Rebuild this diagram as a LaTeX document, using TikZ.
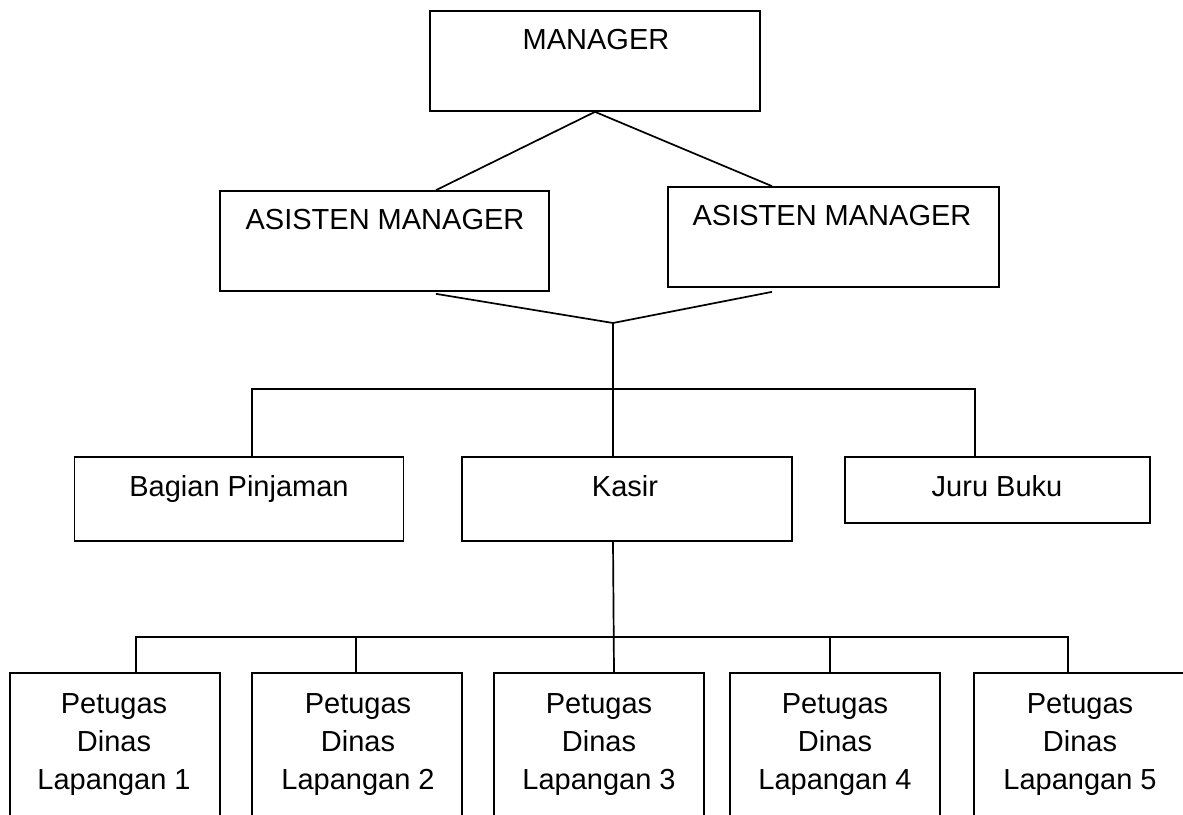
\documentclass[tikz,border=0pt]{standalone}
\usepackage{fontspec}
\setmainfont{Liberation Sans}
\usetikzlibrary{calc}
\begin{document}
\begin{tikzpicture}[x=1pt,y=-1pt,
  box/.style={draw,line width=1.7pt,rectangle,inner sep=0pt},
  lbl/.style={font=\fontsize{29}{38}\selectfont,align=center,anchor=base,inner sep=0pt},
  link/.style={line width=1.7pt}]
\useasboundingbox (0,0) rectangle (1183,814);
\clip (0,0) rectangle (1183,814);
% boxes
\node[box,minimum width=330pt,minimum height=100pt] (mgr) at (595,61) {};
\node[box,minimum width=329pt,minimum height=100pt] (am1) at (384.5,241) {};
\node[box,minimum width=331pt,minimum height=100pt] (am2) at (833.5,237) {};
\node[box,minimum width=329pt,minimum height=84pt] (bp) at (239,499) {};
\node[box,minimum width=330pt,minimum height=84pt] (kasir) at (627,499) {};
\node[box,minimum width=305pt,minimum height=66pt] (jb) at (997.5,490) {};
\node[box,minimum width=210pt,minimum height=157pt] (pd1) at (115,751.5) {};
\node[box,minimum width=210pt,minimum height=157pt] (pd2) at (357,751.5) {};
\node[box,minimum width=210pt,minimum height=157pt] (pd3) at (599,751.5) {};
\node[box,minimum width=210pt,minimum height=157pt] (pd4) at (835,751.5) {};
\node[box,minimum width=210pt,minimum height=157pt] (pd5) at (1079,751.5) {};
% labels
\node[lbl] (tmgr) at (596,49) {MANAGER};
\node[lbl] (tam1) at (385,229) {ASISTEN MANAGER};
\node[lbl] (tam2) at (832,225) {ASISTEN MANAGER};
\node[lbl] (tbp) at (239,496) {Bagian Pinjaman};
\node[lbl] (tkasir) at (625,496) {Kasir};
\node[lbl] (tjb) at (997,496) {Juru Buku};
\node[lbl] (tpd1) at (114,789) {Petugas\\Dinas\\Lapangan 1};
\node[lbl] (tpd2) at (358,789) {Petugas\\Dinas\\Lapangan 2};
\node[lbl] (tpd3) at (599,789) {Petugas\\Dinas\\Lapangan 3};
\node[lbl] (tpd4) at (835,789) {Petugas\\Dinas\\Lapangan 4};
\node[lbl] (tpd5) at (1080,789) {Petugas\\Dinas\\Lapangan 5};
% connectors
\coordinate (j) at (613,323);
\coordinate (bus1) at (613,389);
\coordinate (bus2) at (614,637);
\draw[link] (mgr.south) -- ($(am1.north)+(51.5,0)$);
\draw[link] (mgr.south) -- ($(am2.north)+(-61.5,0)$);
\draw[link] ($(am1.south)+(51.5,2)$) -- (j) -- ($(am2.south)+(-61.5,4)$);
\draw[link] (j) -- (j |- kasir.north);
\draw[link] ($(bp.north)+(13,0)$) |- (bus1) -| ($(jb.north)+(-22.5,0)$);
\draw[link] (kasir.south -| j) -- (bus2 |- pd3.north);
\draw[link] ($(pd1.north)+(21,0)$) |- (bus2) -| ($(pd5.north)+(-11,0)$);
\draw[link] ($(pd2.north)+(-1,0)$) -- ++(0,-36);
\draw[link] ($(pd4.north)+(-5,0)$) -- ++(0,-36);
\end{tikzpicture}
\end{document}
